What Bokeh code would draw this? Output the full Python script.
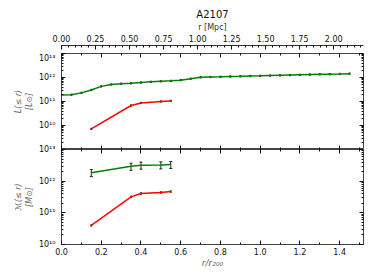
from bokeh.plotting import figure
from bokeh.layouts import column
from bokeh.models import (Range1d, LinearAxis, LogAxis, FixedTicker, SingleIntervalTicker,
                          CustomJSTickFormatter, NumeralTickFormatter, Whisker, TeeHead,
                          ColumnDataSource)
from bokeh.embed import file_html
from bokeh.resources import INLINE

TITLE = "A2107"
R200_MPC = 1.46
X_MAX = 1.52

# --- luminosity profile L(<=r) ---
r_L_green = [0.00, 0.05, 0.10, 0.15, 0.20, 0.25, 0.30, 0.35, 0.40, 0.45,
             0.50, 0.55, 0.60, 0.65, 0.70, 0.75, 0.80, 0.85, 0.90, 0.95,
             1.00, 1.05, 1.10, 1.15, 1.20, 1.25, 1.30, 1.35, 1.40, 1.45]
L_green = [1.86e11, 1.91e11, 2.29e11, 3.02e11, 4.27e11, 5.13e11, 5.50e11, 5.75e11, 6.17e11, 6.61e11,
           6.92e11, 7.24e11, 7.76e11, 8.91e11, 1.02e12, 1.05e12, 1.07e12, 1.10e12, 1.12e12, 1.15e12,
           1.17e12, 1.20e12, 1.23e12, 1.26e12, 1.29e12, 1.32e12, 1.35e12, 1.38e12, 1.41e12, 1.45e12]
L_green_relerr = [0.06, 0.06, 0.06, 0.06, 0.06, 0.06, 0.06, 0.06, 0.06, 0.06,
                  0.06, 0.06, 0.06, 0.06, 0.06, 0.06, 0.06, 0.06, 0.06, 0.06,
                  0.06, 0.06, 0.06, 0.06, 0.06, 0.06, 0.06, 0.06, 0.06, 0.06]
r_L_red = [0.15, 0.35, 0.40, 0.50, 0.55]
L_red = [7.2e9, 6.8e10, 8.7e10, 1.0e11, 1.06e11]
L_red_relerr = [0.06, 0.06, 0.06, 0.06, 0.06]

# --- mass profile M(<=r) ---
r_M = [0.15, 0.35, 0.40, 0.50, 0.55]
M_green = [1.85e12, 2.95e12, 3.2e12, 3.25e12, 3.35e12]
M_green_relerr = [0.25, 0.25, 0.25, 0.25, 0.25]
M_red = [4.0e10, 3.2e11, 4.1e11, 4.4e11, 4.7e11]
M_red_relerr = [0.05, 0.05, 0.05, 0.05, 0.05]

FONT = "DejaVu Sans"
FRAME_W = 302
LEFT = 61
RIGHT = 3

sup_js = """
const e = Math.round(Math.log10(tick));
if (e < MINE) { return ""; }
const m = {"0":"\u2070","1":"\u00b9","2":"\u00b2","3":"\u00b3","4":"\u2074","5":"\u2075","6":"\u2076","7":"\u2077","8":"\u2078","9":"\u2079","-":"\u207b"};
let s = "";
for (const c of String(e)) { s += m[c]; }
return "10" + s;
"""


def log_ticker(lo, hi):
    majors = [10.0 ** e for e in range(lo, hi + 1)]
    minors = [k * 10.0 ** e for e in range(lo - 1, hi) for k in range(2, 10)]
    return FixedTicker(ticks=majors, minor_ticks=minors)


def style(ax, tin=4, tout=0, labels=True):
    ax.axis_line_color = None
    ax.major_tick_in = tin
    ax.major_tick_out = tout
    ax.minor_tick_in = 2
    ax.minor_tick_out = min(tout, 2)
    ax.major_tick_line_color = "#111111"
    ax.minor_tick_line_color = "#111111"
    ax.major_label_text_font = FONT
    ax.major_label_text_font_size = "8px"
    ax.major_label_text_color = "#111111"
    ax.axis_label_text_font = FONT
    if not labels:
        ax.formatter = CustomJSTickFormatter(code="return '';")
        ax.major_label_standoff = 0


def errbars(p, xs, ys, rel, color="#222222", head=3):
    src = ColumnDataSource(dict(x=xs, lo=[y * (1 - e) for y, e in zip(ys, rel)],
                                hi=[y * (1 + e) for y, e in zip(ys, rel)]))
    w = Whisker(base="x", lower="lo", upper="hi", source=src, dimension="height",
                line_color=color, line_width=1,
                upper_head=TeeHead(size=head, line_color=color, line_width=1),
                lower_head=TeeHead(size=head, line_color=color, line_width=1))
    p.add_layout(w)


def base_fig(**kw):
    p = figure(frame_width=FRAME_W, toolbar_location=None, output_backend="svg",
               x_axis_location=None, y_axis_location=None,
               min_border_left=LEFT, min_border_right=RIGHT, **kw)
    p.xgrid.grid_line_color = None
    p.ygrid.grid_line_color = None
    return p


# ---------- header: title + Mpc axis ----------
p0 = base_fig(frame_height=8, x_range=Range1d(0, X_MAX * R200_MPC), y_range=Range1d(0, 1),
              min_border_top=0, min_border_bottom=0)
p0.margin = (6, 0, 0, 0)
p0.outline_line_color = None
p0.title.text = TITLE
p0.title.align = "center"
p0.title.text_font = FONT
p0.title.text_font_size = "10px"
p0.title.text_font_style = "normal"
p0.title.text_color = "#111111"
p0.title.standoff = 0
ax_mpc = LinearAxis(ticker=SingleIntervalTicker(interval=0.25, num_minor_ticks=5),
                    formatter=NumeralTickFormatter(format="0.00"), axis_label="r [Mpc]")
style(ax_mpc, tin=4, tout=0)
ax_mpc.axis_line_color = "#333333"
ax_mpc.major_label_standoff = 4
ax_mpc.axis_label_standoff = 0
ax_mpc.axis_label_text_font_size = "8px"
ax_mpc.axis_label_text_font_style = "normal"
ax_mpc.axis_label_text_color = "#333333"
p0.add_layout(ax_mpc, "above")

# ---------- top panel: luminosity ----------
p1 = base_fig(frame_height=96, x_range=Range1d(0, X_MAX), y_range=Range1d(1e9, 1e13),
              y_axis_type="log", min_border_top=0, min_border_bottom=0)
p1.outline_line_color = "#444444"
p1.line(r_L_green, L_green, line_color="green", line_width=1.5)
errbars(p1, r_L_green, L_green, L_green_relerr, head=2)
p1.line(r_L_red, L_red, line_color="red", line_width=1.5)
errbars(p1, r_L_red, L_red, L_red_relerr, head=2)

yl1 = LogAxis(ticker=log_ticker(10, 13),
              formatter=CustomJSTickFormatter(code=sup_js.replace("MINE", "10")),
              axis_label="L(\u2264 r)\n[L\u2299]")
style(yl1)
yl1.major_label_standoff = 6
yl1.axis_label_standoff = 2
yl1.axis_label_text_font_size = "8px"
yl1.axis_label_text_font_style = "italic"
yl1.axis_label_text_color = "#666666"
p1.add_layout(yl1, "left")
yr1 = LogAxis(ticker=log_ticker(10, 13))
style(yr1, labels=False)
p1.add_layout(yr1, "right")
xt1 = LinearAxis(ticker=SingleIntervalTicker(interval=0.2, num_minor_ticks=2))
style(xt1, labels=False)
p1.add_layout(xt1, "above")

# ---------- bottom panel: mass ----------
p2 = base_fig(frame_height=95, x_range=Range1d(0, X_MAX), y_range=Range1d(1e10, 1e13),
              y_axis_type="log", min_border_top=6, min_border_bottom=0)
p2.margin = (-6, 0, 0, 0)
p2.border_fill_color = None
p2.outline_line_color = "#444444"
p2.line(r_M, M_green, line_color="green", line_width=1.5)
errbars(p2, r_M, M_green, M_green_relerr)
p2.line(r_M, M_red, line_color="red", line_width=1.5)
errbars(p2, r_M, M_red, M_red_relerr, head=2)

yl2 = LogAxis(ticker=log_ticker(10, 13),
              formatter=CustomJSTickFormatter(code=sup_js.replace("MINE", "10")),
              axis_label="\u2133(\u2264 r)\n[M\u2299]")
style(yl2)
yl2.major_label_standoff = 6
yl2.axis_label_standoff = 2
yl2.axis_label_text_font_size = "8px"
yl2.axis_label_text_font_style = "italic"
yl2.axis_label_text_color = "#666666"
p2.add_layout(yl2, "left")
yr2 = LogAxis(ticker=log_ticker(10, 13))
style(yr2, labels=False)
p2.add_layout(yr2, "right")
xt2 = LinearAxis(ticker=SingleIntervalTicker(interval=0.2, num_minor_ticks=2))
style(xt2, tin=4, tout=4, labels=False)
p2.add_layout(xt2, "above")
xb2 = LinearAxis(ticker=SingleIntervalTicker(interval=0.2, num_minor_ticks=2),
                 formatter=NumeralTickFormatter(format="0.0"),
                 axis_label="r/r\u2082\u2080\u2080")
style(xb2)
xb2.major_label_standoff = 3
xb2.axis_label_standoff = 0
xb2.axis_label_text_font_size = "9px"
xb2.axis_label_text_font_style = "italic"
xb2.axis_label_text_color = "#666666"
p2.add_layout(xb2, "below")

layout = column(p0, p1, p2, spacing=0)
open("out.html", "w").write(file_html(layout, INLINE))
